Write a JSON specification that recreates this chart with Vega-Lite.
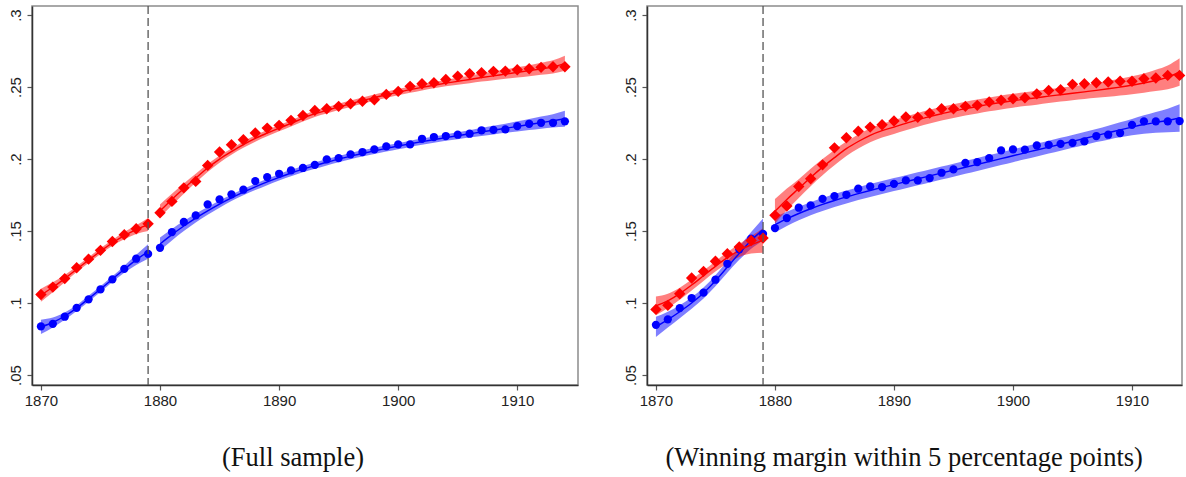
{
  "$schema": "https://vega.github.io/schema/vega-lite/v6.json",
  "background": "white",
  "padding": {"left": 7, "top": 4, "right": 5, "bottom": 2},
  "config": {
    "view": {"stroke": "#8c8c8c", "strokeWidth": 1.5},
    "axis": {"domainColor": "#333333", "domainWidth": 1.5, "tickColor": "#555555", "tickSize": 5, "tickWidth": 1.2, "labelFont": "Liberation Sans", "labelFontSize": 15, "labelColor": "#222222", "grid": false, "title": null},
    "title": {"font": "Liberation Serif", "fontSize": 26.5, "fontWeight": "normal", "color": "#111111", "orient": "bottom", "anchor": "middle", "frame": "bounds", "offset": 37}
  },
  "datasets": {
    "full": [
      {"party":"B","side":"pre","year":1870,"share":0.0838,"fit":0.0835,"lo":0.0785,"hi":0.0885},
      {"party":"B","side":"pre","year":1871,"share":0.0856,"fit":0.0865,"lo":0.083,"hi":0.09},
      {"party":"B","side":"pre","year":1872,"share":0.0905,"fit":0.091,"lo":0.0885,"hi":0.0935},
      {"party":"B","side":"pre","year":1873,"share":0.0967,"fit":0.0965,"lo":0.0945,"hi":0.0985},
      {"party":"B","side":"pre","year":1874,"share":0.1026,"fit":0.103,"lo":0.101,"hi":0.105},
      {"party":"B","side":"pre","year":1875,"share":0.1095,"fit":0.1097,"lo":0.1077,"hi":0.1117},
      {"party":"B","side":"pre","year":1876,"share":0.1165,"fit":0.1166,"lo":0.1146,"hi":0.1186},
      {"party":"B","side":"pre","year":1877,"share":0.1238,"fit":0.1235,"lo":0.121,"hi":0.126},
      {"party":"B","side":"pre","year":1878,"share":0.1308,"fit":0.13,"lo":0.1265,"hi":0.1335},
      {"party":"B","side":"pre","year":1879,"share":0.1342,"fit":0.1358,"lo":0.1308,"hi":0.1408},
      {"party":"B","side":"post","year":1880,"share":0.1384,"fit":0.141,"lo":0.1365,"hi":0.1455},
      {"party":"B","side":"post","year":1881,"share":0.1493,"fit":0.1475,"lo":0.1435,"hi":0.1515},
      {"party":"B","side":"post","year":1882,"share":0.1563,"fit":0.1535,"lo":0.15,"hi":0.157},
      {"party":"B","side":"post","year":1883,"share":0.1609,"fit":0.159,"lo":0.156,"hi":0.162},
      {"party":"B","side":"post","year":1884,"share":0.1685,"fit":0.164,"lo":0.1613,"hi":0.1667},
      {"party":"B","side":"post","year":1885,"share":0.172,"fit":0.1687,"lo":0.1662,"hi":0.1712},
      {"party":"B","side":"post","year":1886,"share":0.1755,"fit":0.173,"lo":0.1708,"hi":0.1752},
      {"party":"B","side":"post","year":1887,"share":0.1787,"fit":0.177,"lo":0.1748,"hi":0.1792},
      {"party":"B","side":"post","year":1888,"share":0.1847,"fit":0.1807,"lo":0.1785,"hi":0.1829},
      {"party":"B","side":"post","year":1889,"share":0.1875,"fit":0.1841,"lo":0.1819,"hi":0.1863},
      {"party":"B","side":"post","year":1890,"share":0.1898,"fit":0.1873,"lo":0.1851,"hi":0.1895},
      {"party":"B","side":"post","year":1891,"share":0.1922,"fit":0.1903,"lo":0.1881,"hi":0.1925},
      {"party":"B","side":"post","year":1892,"share":0.1938,"fit":0.193,"lo":0.1908,"hi":0.1952},
      {"party":"B","side":"post","year":1893,"share":0.196,"fit":0.1955,"lo":0.1933,"hi":0.1977},
      {"party":"B","side":"post","year":1894,"share":0.1998,"fit":0.1978,"lo":0.1956,"hi":0.2},
      {"party":"B","side":"post","year":1895,"share":0.2007,"fit":0.2,"lo":0.1978,"hi":0.2022},
      {"party":"B","side":"post","year":1896,"share":0.2033,"fit":0.202,"lo":0.1998,"hi":0.2042},
      {"party":"B","side":"post","year":1897,"share":0.2049,"fit":0.2039,"lo":0.2017,"hi":0.2061},
      {"party":"B","side":"post","year":1898,"share":0.2067,"fit":0.2057,"lo":0.2035,"hi":0.2079},
      {"party":"B","side":"post","year":1899,"share":0.2088,"fit":0.2074,"lo":0.2052,"hi":0.2096},
      {"party":"B","side":"post","year":1900,"share":0.2102,"fit":0.209,"lo":0.2068,"hi":0.2112},
      {"party":"B","side":"post","year":1901,"share":0.2102,"fit":0.2106,"lo":0.2084,"hi":0.2128},
      {"party":"B","side":"post","year":1902,"share":0.2141,"fit":0.2121,"lo":0.2099,"hi":0.2143},
      {"party":"B","side":"post","year":1903,"share":0.2153,"fit":0.2135,"lo":0.2113,"hi":0.2157},
      {"party":"B","side":"post","year":1904,"share":0.216,"fit":0.2149,"lo":0.2127,"hi":0.2171},
      {"party":"B","side":"post","year":1905,"share":0.2169,"fit":0.2162,"lo":0.2138,"hi":0.2186},
      {"party":"B","side":"post","year":1906,"share":0.2176,"fit":0.2175,"lo":0.2149,"hi":0.2201},
      {"party":"B","side":"post","year":1907,"share":0.22,"fit":0.2188,"lo":0.216,"hi":0.2216},
      {"party":"B","side":"post","year":1908,"share":0.2203,"fit":0.2201,"lo":0.2171,"hi":0.2231},
      {"party":"B","side":"post","year":1909,"share":0.2206,"fit":0.2214,"lo":0.2182,"hi":0.2246},
      {"party":"B","side":"post","year":1910,"share":0.2229,"fit":0.2227,"lo":0.2192,"hi":0.2262},
      {"party":"B","side":"post","year":1911,"share":0.2245,"fit":0.224,"lo":0.2202,"hi":0.2278},
      {"party":"B","side":"post","year":1912,"share":0.2252,"fit":0.2253,"lo":0.2211,"hi":0.2295},
      {"party":"B","side":"post","year":1913,"share":0.2252,"fit":0.2266,"lo":0.222,"hi":0.2312},
      {"party":"B","side":"post","year":1914,"share":0.2262,"fit":0.228,"lo":0.2225,"hi":0.2335},
      {"party":"R","side":"pre","year":1870,"share":0.106,"fit":0.1055,"lo":0.101,"hi":0.11},
      {"party":"R","side":"pre","year":1871,"share":0.1111,"fit":0.111,"lo":0.1075,"hi":0.1145},
      {"party":"R","side":"pre","year":1872,"share":0.117,"fit":0.117,"lo":0.1145,"hi":0.1195},
      {"party":"R","side":"pre","year":1873,"share":0.1245,"fit":0.1235,"lo":0.1215,"hi":0.1255},
      {"party":"R","side":"pre","year":1874,"share":0.1305,"fit":0.1298,"lo":0.1278,"hi":0.1318},
      {"party":"R","side":"pre","year":1875,"share":0.1366,"fit":0.136,"lo":0.134,"hi":0.138},
      {"party":"R","side":"pre","year":1876,"share":0.1428,"fit":0.1418,"lo":0.1398,"hi":0.1438},
      {"party":"R","side":"pre","year":1877,"share":0.1474,"fit":0.1468,"lo":0.1443,"hi":0.1493},
      {"party":"R","side":"pre","year":1878,"share":0.1516,"fit":0.151,"lo":0.148,"hi":0.154},
      {"party":"R","side":"pre","year":1879,"share":0.155,"fit":0.1545,"lo":0.15,"hi":0.159},
      {"party":"R","side":"post","year":1880,"share":0.1627,"fit":0.164,"lo":0.1595,"hi":0.1685},
      {"party":"R","side":"post","year":1881,"share":0.1706,"fit":0.172,"lo":0.168,"hi":0.176},
      {"party":"R","side":"post","year":1882,"share":0.18,"fit":0.1795,"lo":0.176,"hi":0.183},
      {"party":"R","side":"post","year":1883,"share":0.1845,"fit":0.1868,"lo":0.1838,"hi":0.1898},
      {"party":"R","side":"post","year":1884,"share":0.1956,"fit":0.1938,"lo":0.1911,"hi":0.1965},
      {"party":"R","side":"post","year":1885,"share":0.2049,"fit":0.2,"lo":0.1975,"hi":0.2025},
      {"party":"R","side":"post","year":1886,"share":0.2099,"fit":0.2052,"lo":0.203,"hi":0.2074},
      {"party":"R","side":"post","year":1887,"share":0.2134,"fit":0.21,"lo":0.2078,"hi":0.2122},
      {"party":"R","side":"post","year":1888,"share":0.2181,"fit":0.2143,"lo":0.2121,"hi":0.2165},
      {"party":"R","side":"post","year":1889,"share":0.2215,"fit":0.218,"lo":0.2158,"hi":0.2202},
      {"party":"R","side":"post","year":1890,"share":0.2234,"fit":0.2215,"lo":0.2193,"hi":0.2237},
      {"party":"R","side":"post","year":1891,"share":0.2269,"fit":0.2248,"lo":0.2226,"hi":0.227},
      {"party":"R","side":"post","year":1892,"share":0.2303,"fit":0.2283,"lo":0.2261,"hi":0.2305},
      {"party":"R","side":"post","year":1893,"share":0.2338,"fit":0.2315,"lo":0.2293,"hi":0.2337},
      {"party":"R","side":"post","year":1894,"share":0.2349,"fit":0.2338,"lo":0.2316,"hi":0.236},
      {"party":"R","side":"post","year":1895,"share":0.2366,"fit":0.2362,"lo":0.234,"hi":0.2384},
      {"party":"R","side":"post","year":1896,"share":0.2384,"fit":0.2384,"lo":0.2362,"hi":0.2406},
      {"party":"R","side":"post","year":1897,"share":0.2401,"fit":0.2406,"lo":0.2384,"hi":0.2428},
      {"party":"R","side":"post","year":1898,"share":0.2412,"fit":0.2427,"lo":0.2405,"hi":0.2449},
      {"party":"R","side":"post","year":1899,"share":0.2449,"fit":0.2446,"lo":0.2424,"hi":0.2468},
      {"party":"R","side":"post","year":1900,"share":0.247,"fit":0.2465,"lo":0.2443,"hi":0.2487},
      {"party":"R","side":"post","year":1901,"share":0.2505,"fit":0.2482,"lo":0.246,"hi":0.2504},
      {"party":"R","side":"post","year":1902,"share":0.2523,"fit":0.2498,"lo":0.2476,"hi":0.252},
      {"party":"R","side":"post","year":1903,"share":0.253,"fit":0.2513,"lo":0.2491,"hi":0.2535},
      {"party":"R","side":"post","year":1904,"share":0.2553,"fit":0.2527,"lo":0.2505,"hi":0.2549},
      {"party":"R","side":"post","year":1905,"share":0.2576,"fit":0.254,"lo":0.2516,"hi":0.2564},
      {"party":"R","side":"post","year":1906,"share":0.2592,"fit":0.2553,"lo":0.2527,"hi":0.2579},
      {"party":"R","side":"post","year":1907,"share":0.2599,"fit":0.2566,"lo":0.2538,"hi":0.2594},
      {"party":"R","side":"post","year":1908,"share":0.2609,"fit":0.2578,"lo":0.2548,"hi":0.2608},
      {"party":"R","side":"post","year":1909,"share":0.2611,"fit":0.259,"lo":0.2558,"hi":0.2622},
      {"party":"R","side":"post","year":1910,"share":0.262,"fit":0.2602,"lo":0.2567,"hi":0.2637},
      {"party":"R","side":"post","year":1911,"share":0.2627,"fit":0.2614,"lo":0.2576,"hi":0.2652},
      {"party":"R","side":"post","year":1912,"share":0.2637,"fit":0.2627,"lo":0.2585,"hi":0.2669},
      {"party":"R","side":"post","year":1913,"share":0.2641,"fit":0.264,"lo":0.2594,"hi":0.2686},
      {"party":"R","side":"post","year":1914,"share":0.2641,"fit":0.2665,"lo":0.2613,"hi":0.2717}
    ],
    "close": [
      {"party":"B","side":"pre","year":1870,"share":0.0849,"fit":0.0835,"lo":0.0765,"hi":0.0905},
      {"party":"B","side":"pre","year":1871,"share":0.0887,"fit":0.0885,"lo":0.083,"hi":0.094},
      {"party":"B","side":"pre","year":1872,"share":0.0965,"fit":0.094,"lo":0.0895,"hi":0.0985},
      {"party":"B","side":"pre","year":1873,"share":0.1035,"fit":0.1,"lo":0.096,"hi":0.104},
      {"party":"B","side":"pre","year":1874,"share":0.1072,"fit":0.107,"lo":0.1032,"hi":0.1108},
      {"party":"B","side":"pre","year":1875,"share":0.1162,"fit":0.1155,"lo":0.1117,"hi":0.1193},
      {"party":"B","side":"pre","year":1876,"share":0.1273,"fit":0.125,"lo":0.121,"hi":0.129},
      {"party":"B","side":"pre","year":1877,"share":0.1373,"fit":0.1345,"lo":0.13,"hi":0.139},
      {"party":"B","side":"pre","year":1878,"share":0.1447,"fit":0.1435,"lo":0.1377,"hi":0.1493},
      {"party":"B","side":"pre","year":1879,"share":0.1481,"fit":0.151,"lo":0.1432,"hi":0.1588},
      {"party":"B","side":"post","year":1880,"share":0.1521,"fit":0.1545,"lo":0.149,"hi":0.16},
      {"party":"B","side":"post","year":1881,"share":0.159,"fit":0.1585,"lo":0.1535,"hi":0.1635},
      {"party":"B","side":"post","year":1882,"share":0.1662,"fit":0.1622,"lo":0.1575,"hi":0.1669},
      {"party":"B","side":"post","year":1883,"share":0.1678,"fit":0.1655,"lo":0.161,"hi":0.17},
      {"party":"B","side":"post","year":1884,"share":0.1724,"fit":0.1685,"lo":0.164,"hi":0.173},
      {"party":"B","side":"post","year":1885,"share":0.1743,"fit":0.1712,"lo":0.1667,"hi":0.1757},
      {"party":"B","side":"post","year":1886,"share":0.1752,"fit":0.1737,"lo":0.1692,"hi":0.1782},
      {"party":"B","side":"post","year":1887,"share":0.1794,"fit":0.176,"lo":0.1715,"hi":0.1805},
      {"party":"B","side":"post","year":1888,"share":0.181,"fit":0.1782,"lo":0.1737,"hi":0.1827},
      {"party":"B","side":"post","year":1889,"share":0.1806,"fit":0.1803,"lo":0.1758,"hi":0.1848},
      {"party":"B","side":"post","year":1890,"share":0.1828,"fit":0.1823,"lo":0.1778,"hi":0.1868},
      {"party":"B","side":"post","year":1891,"share":0.1852,"fit":0.1843,"lo":0.1798,"hi":0.1888},
      {"party":"B","side":"post","year":1892,"share":0.1852,"fit":0.1863,"lo":0.1818,"hi":0.1908},
      {"party":"B","side":"post","year":1893,"share":0.1868,"fit":0.1883,"lo":0.1838,"hi":0.1928},
      {"party":"B","side":"post","year":1894,"share":0.1905,"fit":0.1903,"lo":0.1858,"hi":0.1948},
      {"party":"B","side":"post","year":1895,"share":0.1928,"fit":0.1923,"lo":0.1878,"hi":0.1968},
      {"party":"B","side":"post","year":1896,"share":0.1974,"fit":0.1943,"lo":0.1898,"hi":0.1988},
      {"party":"B","side":"post","year":1897,"share":0.1979,"fit":0.1963,"lo":0.1918,"hi":0.2008},
      {"party":"B","side":"post","year":1898,"share":0.2007,"fit":0.1983,"lo":0.1938,"hi":0.2028},
      {"party":"B","side":"post","year":1899,"share":0.206,"fit":0.2003,"lo":0.1958,"hi":0.2048},
      {"party":"B","side":"post","year":1900,"share":0.2067,"fit":0.2023,"lo":0.1978,"hi":0.2068},
      {"party":"B","side":"post","year":1901,"share":0.2065,"fit":0.2043,"lo":0.1998,"hi":0.2088},
      {"party":"B","side":"post","year":1902,"share":0.2095,"fit":0.2063,"lo":0.2018,"hi":0.2108},
      {"party":"B","side":"post","year":1903,"share":0.2099,"fit":0.2083,"lo":0.2038,"hi":0.2128},
      {"party":"B","side":"post","year":1904,"share":0.2106,"fit":0.2103,"lo":0.2058,"hi":0.2148},
      {"party":"B","side":"post","year":1905,"share":0.2113,"fit":0.2123,"lo":0.2078,"hi":0.2168},
      {"party":"B","side":"post","year":1906,"share":0.2123,"fit":0.2143,"lo":0.2098,"hi":0.2188},
      {"party":"B","side":"post","year":1907,"share":0.216,"fit":0.2163,"lo":0.2118,"hi":0.2208},
      {"party":"B","side":"post","year":1908,"share":0.2169,"fit":0.2183,"lo":0.2135,"hi":0.2231},
      {"party":"B","side":"post","year":1909,"share":0.2181,"fit":0.2203,"lo":0.2151,"hi":0.2255},
      {"party":"B","side":"post","year":1910,"share":0.2238,"fit":0.2222,"lo":0.2165,"hi":0.2279},
      {"party":"B","side":"post","year":1911,"share":0.2262,"fit":0.224,"lo":0.2176,"hi":0.2304},
      {"party":"B","side":"post","year":1912,"share":0.2262,"fit":0.2255,"lo":0.2183,"hi":0.2327},
      {"party":"B","side":"post","year":1913,"share":0.2262,"fit":0.2268,"lo":0.2186,"hi":0.235},
      {"party":"B","side":"post","year":1914,"share":0.2264,"fit":0.2285,"lo":0.219,"hi":0.238},
      {"party":"R","side":"pre","year":1870,"share":0.0956,"fit":0.098,"lo":0.0915,"hi":0.1045},
      {"party":"R","side":"pre","year":1871,"share":0.0984,"fit":0.1015,"lo":0.0965,"hi":0.1065},
      {"party":"R","side":"pre","year":1872,"share":0.1065,"fit":0.1065,"lo":0.1023,"hi":0.1107},
      {"party":"R","side":"pre","year":1873,"share":0.1174,"fit":0.1125,"lo":0.1087,"hi":0.1163},
      {"party":"R","side":"pre","year":1874,"share":0.122,"fit":0.119,"lo":0.1154,"hi":0.1226},
      {"party":"R","side":"pre","year":1875,"share":0.129,"fit":0.1255,"lo":0.1219,"hi":0.1291},
      {"party":"R","side":"pre","year":1876,"share":0.1342,"fit":0.1315,"lo":0.1277,"hi":0.1353},
      {"party":"R","side":"pre","year":1877,"share":0.1389,"fit":0.1365,"lo":0.132,"hi":0.141},
      {"party":"R","side":"pre","year":1878,"share":0.1435,"fit":0.1405,"lo":0.1345,"hi":0.1465},
      {"party":"R","side":"pre","year":1879,"share":0.1451,"fit":0.1435,"lo":0.135,"hi":0.152},
      {"party":"R","side":"post","year":1880,"share":0.1609,"fit":0.1637,"lo":0.1552,"hi":0.1722},
      {"party":"R","side":"post","year":1881,"share":0.1674,"fit":0.172,"lo":0.1645,"hi":0.1795},
      {"party":"R","side":"post","year":1882,"share":0.181,"fit":0.1795,"lo":0.173,"hi":0.186},
      {"party":"R","side":"post","year":1883,"share":0.1863,"fit":0.1872,"lo":0.1812,"hi":0.1932},
      {"party":"R","side":"post","year":1884,"share":0.196,"fit":0.1944,"lo":0.1888,"hi":0.2},
      {"party":"R","side":"post","year":1885,"share":0.2078,"fit":0.201,"lo":0.1957,"hi":0.2063},
      {"party":"R","side":"post","year":1886,"share":0.2148,"fit":0.2072,"lo":0.2022,"hi":0.2122},
      {"party":"R","side":"post","year":1887,"share":0.2194,"fit":0.2122,"lo":0.2073,"hi":0.2171},
      {"party":"R","side":"post","year":1888,"share":0.2222,"fit":0.2165,"lo":0.2117,"hi":0.2213},
      {"party":"R","side":"post","year":1889,"share":0.2238,"fit":0.2197,"lo":0.2149,"hi":0.2245},
      {"party":"R","side":"post","year":1890,"share":0.2264,"fit":0.2222,"lo":0.2174,"hi":0.227},
      {"party":"R","side":"post","year":1891,"share":0.2292,"fit":0.2248,"lo":0.22,"hi":0.2296},
      {"party":"R","side":"post","year":1892,"share":0.229,"fit":0.2272,"lo":0.2224,"hi":0.232},
      {"party":"R","side":"post","year":1893,"share":0.2319,"fit":0.2295,"lo":0.2247,"hi":0.2343},
      {"party":"R","side":"post","year":1894,"share":0.2349,"fit":0.2315,"lo":0.2267,"hi":0.2363},
      {"party":"R","side":"post","year":1895,"share":0.2349,"fit":0.2333,"lo":0.2285,"hi":0.2381},
      {"party":"R","side":"post","year":1896,"share":0.2366,"fit":0.235,"lo":0.2302,"hi":0.2398},
      {"party":"R","side":"post","year":1897,"share":0.2373,"fit":0.2365,"lo":0.2317,"hi":0.2413},
      {"party":"R","side":"post","year":1898,"share":0.2396,"fit":0.238,"lo":0.2332,"hi":0.2428},
      {"party":"R","side":"post","year":1899,"share":0.2408,"fit":0.2393,"lo":0.2345,"hi":0.2441},
      {"party":"R","side":"post","year":1900,"share":0.2419,"fit":0.2405,"lo":0.2357,"hi":0.2453},
      {"party":"R","side":"post","year":1901,"share":0.2426,"fit":0.2416,"lo":0.2368,"hi":0.2464},
      {"party":"R","side":"post","year":1902,"share":0.2453,"fit":0.2426,"lo":0.2378,"hi":0.2474},
      {"party":"R","side":"post","year":1903,"share":0.2477,"fit":0.2437,"lo":0.2389,"hi":0.2485},
      {"party":"R","side":"post","year":1904,"share":0.2481,"fit":0.2447,"lo":0.2399,"hi":0.2495},
      {"party":"R","side":"post","year":1905,"share":0.2519,"fit":0.2457,"lo":0.2409,"hi":0.2505},
      {"party":"R","side":"post","year":1906,"share":0.2523,"fit":0.2467,"lo":0.2417,"hi":0.2517},
      {"party":"R","side":"post","year":1907,"share":0.253,"fit":0.2477,"lo":0.2425,"hi":0.2529},
      {"party":"R","side":"post","year":1908,"share":0.2535,"fit":0.2488,"lo":0.2433,"hi":0.2543},
      {"party":"R","side":"post","year":1909,"share":0.254,"fit":0.25,"lo":0.2442,"hi":0.2558},
      {"party":"R","side":"post","year":1910,"share":0.254,"fit":0.2513,"lo":0.2451,"hi":0.2575},
      {"party":"R","side":"post","year":1911,"share":0.2558,"fit":0.2528,"lo":0.2461,"hi":0.2595},
      {"party":"R","side":"post","year":1912,"share":0.2563,"fit":0.2546,"lo":0.2472,"hi":0.262},
      {"party":"R","side":"post","year":1913,"share":0.2581,"fit":0.2567,"lo":0.2484,"hi":0.265},
      {"party":"R","side":"post","year":1914,"share":0.2581,"fit":0.2605,"lo":0.251,"hi":0.27}
    ],
    "cutoff": [{"year": 1879}]
  },
  "spacing": 43,
  "hconcat": [
    {
      "title": "(Full sample)",
      "width": 546,
      "height": 379,
      "layer": [
        {
          "data": {"name": "full"},
          "mark": {"type": "area", "opacity": 0.5, "interpolate": "monotone"},
          "encoding": {
            "x": {"field": "year", "type": "quantitative", "scale": {"domain": [1869.25, 1915.1], "nice": false, "zero": false}, "axis": {"values": [1870, 1880, 1890, 1900, 1910], "format": "d", "labelPadding": 3}},
            "y": {"field": "lo", "type": "quantitative", "scale": {"domain": [0.0431, 0.3063], "nice": false, "zero": false}, "axis": {"values": [0.05, 0.1, 0.15, 0.2, 0.25, 0.3], "labelExpr": "replace(format(datum.value, '.2~f'), '0.', '.')", "labelAngle": -90, "labelAlign": "center", "labelBaseline": "bottom", "labelPadding": 4}},
            "y2": {"field": "hi"},
            "color": {"field": "party", "type": "nominal", "scale": {"domain": ["R", "B"], "range": ["#ff0000", "#0000ff"]}, "legend": null},
            "detail": {"field": "side"}
          }
        },
        {
          "data": {"name": "full"},
          "mark": {"type": "line", "strokeWidth": 1.4, "interpolate": "monotone"},
          "encoding": {
            "x": {"field": "year", "type": "quantitative"},
            "y": {"field": "fit", "type": "quantitative"},
            "color": {"field": "party", "type": "nominal", "legend": null},
            "detail": {"field": "side"}
          }
        },
        {
          "data": {"name": "full"},
          "mark": {"type": "point", "filled": true, "opacity": 1},
          "encoding": {
            "x": {"field": "year", "type": "quantitative"},
            "y": {"field": "share", "type": "quantitative"},
            "color": {"field": "party", "type": "nominal", "legend": null},
            "shape": {"field": "party", "type": "nominal", "scale": {"domain": ["R", "B"], "range": ["diamond", "circle"]}, "legend": null},
            "size": {"field": "party", "type": "nominal", "scale": {"domain": ["R", "B"], "range": [130, 68]}, "legend": null}
          }
        },
        {
          "data": {"name": "cutoff"},
          "mark": {"type": "rule", "color": "#555555", "strokeWidth": 1.3, "strokeDash": [8, 4]},
          "encoding": {"x": {"field": "year", "type": "quantitative"}}
        }
      ]
    },
    {
      "title": "(Winning margin within 5 percentage points)",
      "width": 535,
      "height": 379,
      "layer": [
        {
          "data": {"name": "close"},
          "mark": {"type": "area", "opacity": 0.5, "interpolate": "monotone"},
          "encoding": {
            "x": {"field": "year", "type": "quantitative", "scale": {"domain": [1869.25, 1914.2], "nice": false, "zero": false}, "axis": {"values": [1870, 1880, 1890, 1900, 1910], "format": "d", "labelPadding": 3}},
            "y": {"field": "lo", "type": "quantitative", "scale": {"domain": [0.0431, 0.3063], "nice": false, "zero": false}, "axis": {"values": [0.05, 0.1, 0.15, 0.2, 0.25, 0.3], "labelExpr": "replace(format(datum.value, '.2~f'), '0.', '.')", "labelAngle": -90, "labelAlign": "center", "labelBaseline": "bottom", "labelPadding": 4}},
            "y2": {"field": "hi"},
            "color": {"field": "party", "type": "nominal", "scale": {"domain": ["R", "B"], "range": ["#ff0000", "#0000ff"]}, "legend": null},
            "detail": {"field": "side"}
          }
        },
        {
          "data": {"name": "close"},
          "mark": {"type": "line", "strokeWidth": 1.4, "interpolate": "monotone"},
          "encoding": {
            "x": {"field": "year", "type": "quantitative"},
            "y": {"field": "fit", "type": "quantitative"},
            "color": {"field": "party", "type": "nominal", "legend": null},
            "detail": {"field": "side"}
          }
        },
        {
          "data": {"name": "close"},
          "mark": {"type": "point", "filled": true, "opacity": 1},
          "encoding": {
            "x": {"field": "year", "type": "quantitative"},
            "y": {"field": "share", "type": "quantitative"},
            "color": {"field": "party", "type": "nominal", "legend": null},
            "shape": {"field": "party", "type": "nominal", "scale": {"domain": ["R", "B"], "range": ["diamond", "circle"]}, "legend": null},
            "size": {"field": "party", "type": "nominal", "scale": {"domain": ["R", "B"], "range": [130, 68]}, "legend": null}
          }
        },
        {
          "data": {"name": "cutoff"},
          "mark": {"type": "rule", "color": "#555555", "strokeWidth": 1.3, "strokeDash": [8, 4]},
          "encoding": {"x": {"field": "year", "type": "quantitative"}}
        }
      ]
    }
  ]
}
